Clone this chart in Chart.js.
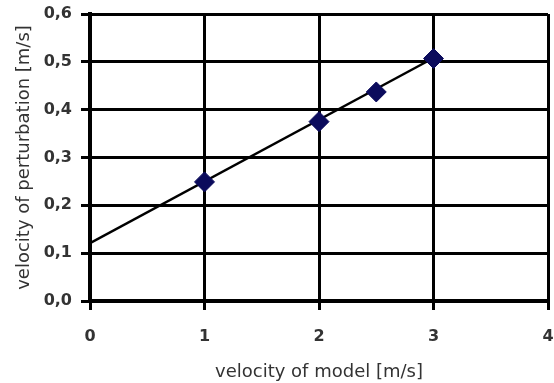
<!DOCTYPE html>
<html>
<head>
<meta charset="utf-8">
<script src="https://cdn.jsdelivr.net/npm/chart.js@4"></script>
<style>
  html, body { margin: 0; padding: 0; background: #fff; }
  #wrap { width: 554px; height: 383px; }
</style>
</head>
<body>
<div id="wrap"><canvas id="myChart" width="554" height="383"></canvas></div>
<script>
// measured points
const modelSpeed = [1, 2, 2.5, 3];
const perturbSpeed = [0.249, 0.375, 0.437, 0.507];
// trend line
const trendX = [0, 3];
const trendY = [0.121, 0.508];

const xTicks = [0, 1, 2, 3, 4];
const yTicks = [0, 0.1, 0.2, 0.3, 0.4, 0.5, 0.6];

function toXY(xs, ys) {
    return xs.map((x, i) => ({ x: x, y: ys[i] }));
}

var tickFont = { family: 'DejaVu Sans', size: 16, weight: 'bold' };
var titleFont = { family: 'DejaVu Sans', size: 18 };

var ctx = document.getElementById('myChart').getContext('2d');
var myChart = new Chart(ctx, {
    type: 'scatter',
    data: {
        datasets: [{
            data: toXY(modelSpeed, perturbSpeed),
            pointStyle: 'rectRot',
            pointRadius: 10,
            backgroundColor: '#0b0b5c',
            borderColor: '#0b0b5c',
            borderWidth: 1,
            showLine: false
        }, {
            data: toXY(trendX, trendY),
            showLine: true,
            borderColor: '#000',
            borderWidth: 2.5,
            pointRadius: 0
        }]
    },
    options: {
        responsive: false,
        animation: false,
        layout: { padding: { top: 14, right: 6, left: 0, bottom: 0 } },
        plugins: {
            legend: { display: false },
            tooltip: { enabled: false }
        },
        scales: {
            x: {
                type: 'linear',
                min: 0,
                max: 4,
                afterFit: function(scale) {
                    scale.height = 82;
                    scale.paddingLeft = 0;
                    scale.paddingRight = 0;
                },
                afterBuildTicks: function(scale) {
                    scale.ticks = xTicks.map(v => ({ value: v }));
                },
                ticks: {
                    font: tickFont,
                    color: '#333',
                    padding: 17,
                    callback: v => String(v)
                },
                grid: { color: '#000', lineWidth: 3, tickLength: 9 },
                border: { color: '#000', width: 4 },
                title: {
                    display: true,
                    text: 'velocity of model [m/s]',
                    font: titleFont,
                    color: '#333',
                    padding: { top: 0, bottom: 0 }
                }
            },
            y: {
                type: 'linear',
                min: 0,
                max: 0.6,
                afterFit: function(scale) {
                    scale.width = 90;
                    scale.paddingTop = 0;
                    scale.paddingBottom = 0;
                },
                afterBuildTicks: function(scale) {
                    scale.ticks = yTicks.map(v => ({ value: v }));
                },
                ticks: {
                    font: tickFont,
                    color: '#333',
                    padding: 9,
                    callback: v => v.toFixed(1).replace('.', ',')
                },
                grid: { color: '#000', lineWidth: 3, tickLength: 9 },
                border: { color: '#000', width: 4 },
                title: {
                    display: true,
                    text: 'velocity of perturbation [m/s]',
                    font: titleFont,
                    color: '#333',
                    padding: { top: 14, bottom: 0 }
                }
            }
        }
    },
    plugins: [{
        // keep the plot box where the reference has it
        id: 'fixArea',
        afterLayout: function(chart) {
            var xs = chart.scales.x;
            xs.right = 548;
            xs.width = xs.right - xs.left;
            xs.configure();
            chart.chartArea.right = 548;
            chart.chartArea.width = 548 - chart.chartArea.left;
        }
    }]
});
</script>
</body>
</html>
